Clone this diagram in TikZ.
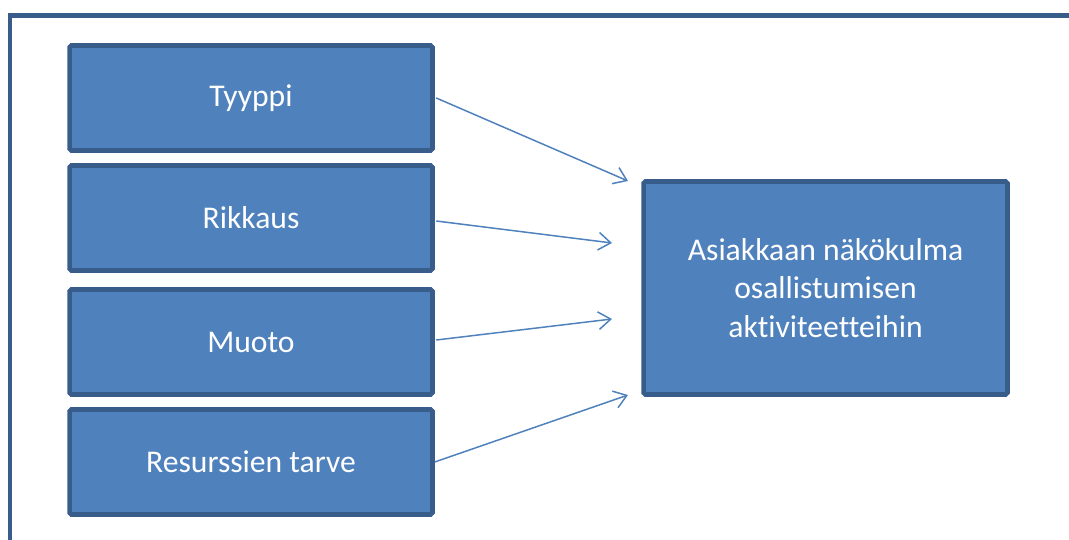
\documentclass[tikz,border=0pt]{standalone}
\usepackage{fontspec}
\setmainfont[Ligatures=NoCommon]{Carlito}
\usepackage{xcolor}
\usetikzlibrary{arrows.meta,positioning,calc}
\definecolor{boxfill}{HTML}{4F81BD}
\definecolor{boxline}{HTML}{385D8A}
\definecolor{linkcol}{HTML}{4F81BD}

\begin{document}
\begin{tikzpicture}[x=0.02cm, y=-0.02cm,
    frame/.style={draw=boxline, line width=2.8pt},
    factor/.style={draw=boxline, fill=boxfill, line width=2.6pt, rounded corners=1pt, minimum width=7.26cm, minimum height=2.1cm, text=white, font=\fontsize{18}{22}\selectfont, inner sep=0pt},
    target/.style={draw=boxline, fill=boxfill, line width=2.6pt, rounded corners=1pt, minimum width=7.28cm, minimum height=4.26cm, text=white, font=\fontsize{18}{21.8}\selectfont, align=center, inner sep=0pt},
    link/.style={draw=linkcol, line width=0.85pt, -{Straight Barb[length=7pt, width=10pt]}}
]
\useasboundingbox (0,0) rectangle (1069,540);
\clip (0,0) rectangle (1069,540);
\draw[frame] (10,15.5) rectangle (1100,580);

\node[factor] (tyyppi)  at (251,98)  {Tyyppi};
\node[factor] (rikkaus) at (251,218) {Rikkaus};
\node[factor] (muoto)   at (251,342) {Muoto};
\node[factor] (tarve)   at (251,462) {Resurssien tarve};

\node[target] (nakokulma) at (825.5,288) {Asiakkaan näkökulma\\osallistumisen\\aktiviteetteihin};

\coordinate (in1) at (628,181);
\coordinate (in2) at (612,243);
\coordinate (in3) at (612,319);
\coordinate (in4) at (628,395);

\draw[link] ($(tyyppi.east)+(1.5,0)$)  -- (in1);
\draw[link] ($(rikkaus.east)+(1.5,3)$) -- (in2);
\draw[link] ($(muoto.east)+(1.5,-2)$)  -- (in3);
\draw[link] (tarve.east) -- (in4);
\end{tikzpicture}
\end{document}
